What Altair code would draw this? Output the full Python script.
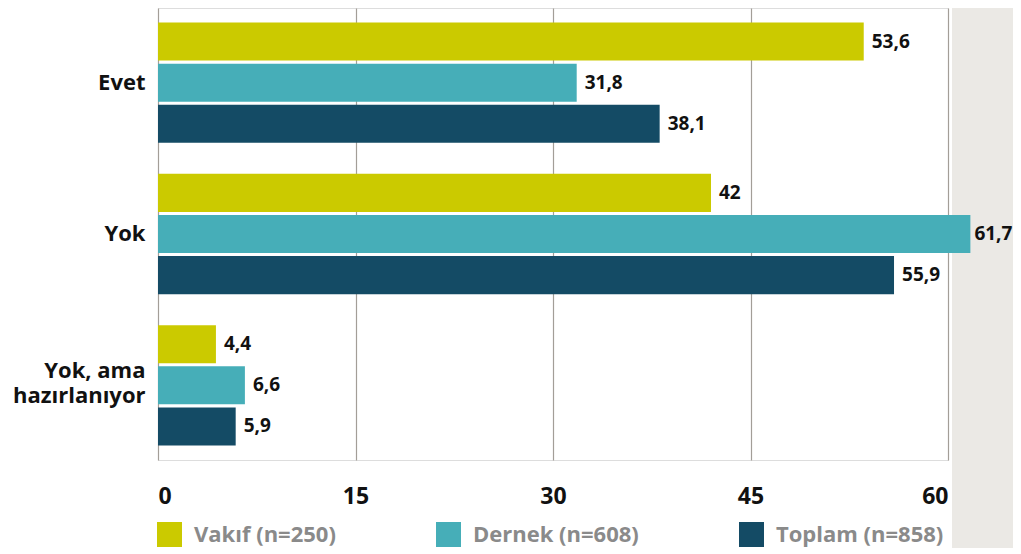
import altair as alt
import pandas as pd

categories = ["Evet", "Yok", "Yok, ama hazırlanıyor"]
groups = ["Vakıf (n=250)", "Dernek (n=608)", "Toplam (n=858)"]
vakif = [53.6, 42, 4.4]
dernek = [31.8, 61.7, 6.6]
toplam = [38.1, 55.9, 5.9]
colors = ["#cbca00", "#46aeb8", "#144b65"]
x_ticks = [0, 15, 30, 45, 60]

rows = []
for g, vals in zip(groups, [vakif, dernek, toplam]):
    for c, v in zip(categories, vals):
        lab = (f"{v:g}").replace(".", ",")
        rows.append({"cat": c, "grp": g, "val": v, "lab": lab})
df = pd.DataFrame(rows)

FONT = "Open Sans"

y_enc = alt.Y(
    "cat:N", sort=categories, title=None,
    scale=alt.Scale(paddingInner=0.205, paddingOuter=0.096),
    axis=alt.Axis(
        domain=False, ticks=False, labelPadding=13, labelFont=FONT,
        labelFontWeight="bold", labelFontSize=22, labelColor="#111111",
        labelLineHeight=25, labelLimit=300,
        labelOffset={"condition": {"test": "datum.value == 'Yok, ama hazırlanıyor'", "value": -14}, "value": 0},
        labelExpr="datum.value == 'Yok, ama hazırlanıyor' ? ['Yok, ama', 'hazırlanıyor'] : datum.label",
    ),
)
yoff_enc = alt.YOffset("grp:N", sort=groups, scale=alt.Scale(paddingInner=0.075, paddingOuter=0))
x_enc = alt.X(
    "val:Q", title=None,
    scale=alt.Scale(domain=[0, 60], nice=False),
    axis=alt.Axis(
        values=x_ticks, domain=False, ticks=False, tickSize=0, labelPadding=25,
        labelFont=FONT, labelFontWeight="bold", labelFontSize=23, labelColor="#111111",
        grid=True, gridColor="#a39e98", gridWidth=1.2,
    ),
)

strip = alt.Chart(alt.Data(values=[{"a": 1}])).mark_rect(color="#ebe9e5").encode(
    x=alt.value(794), x2=alt.value(900), y=alt.value(-10), y2=alt.value(600)
)

bars = alt.Chart(df).mark_bar().encode(
    y=y_enc, yOffset=yoff_enc, x=x_enc,
    color=alt.Color(
        "grp:N", sort=groups,
        scale=alt.Scale(domain=groups, range=colors),
        legend=alt.Legend(
            title=None, orient="none", legendX=-1, legendY=514, direction="horizontal",
            symbolType="square", symbolSize=625, symbolStrokeWidth=0, symbolOpacity=1,
            labelFont=FONT, labelFontWeight="bold", labelFontSize=22, labelColor="#8a8a8a",
            labelOffset=12, columnPadding=100, padding=0, labelLimit=400,
        ),
    ),
)

text_enc = dict(
    y=alt.Y("cat:N", sort=categories), yOffset=alt.YOffset("grp:N", sort=groups),
    x="val:Q", text="lab:N",
)
labels_in = alt.Chart(df).transform_filter("datum.val <= 60").mark_text(
    align="left", baseline="middle", dx=8, font=FONT, fontWeight="bold",
    fontSize=19, color="#111111",
).encode(**text_enc)
labels_out = alt.Chart(df).transform_filter("datum.val > 60").mark_text(
    align="left", baseline="middle", dx=4, font=FONT, fontWeight="bold",
    fontSize=19, color="#111111",
).encode(**text_enc)

chart = alt.layer(strip, bars, labels_in, labels_out).properties(
    width=790, height=452,
    autosize=alt.AutoSizeParams(type="none"),
    padding={"left": 150, "top": 0, "right": 65, "bottom": 88},
).configure_view(stroke=None).configure(background="white")

chart.save("out.html", embed_options={"renderer": "svg", "actions": False})
